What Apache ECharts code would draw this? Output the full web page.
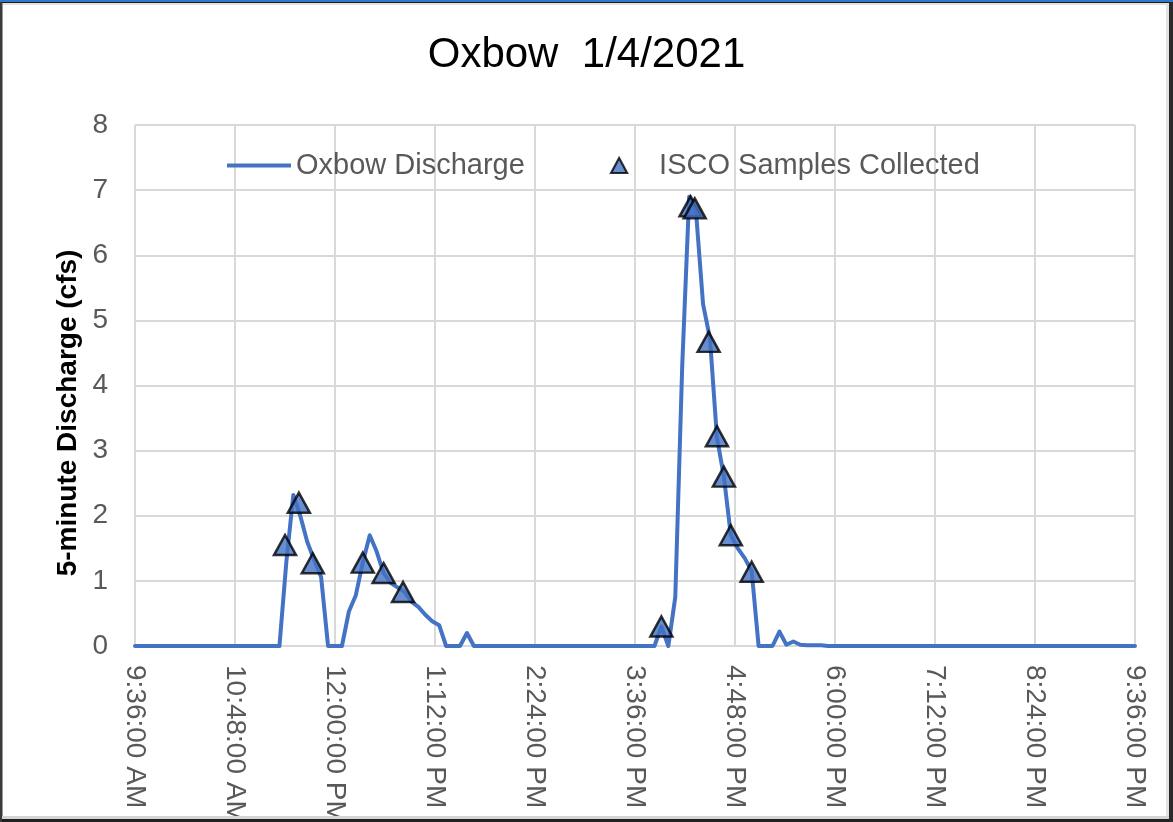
<!DOCTYPE html>
<html>
<head>
<meta charset="utf-8">
<script src="https://cdn.jsdelivr.net/npm/echarts@6/dist/echarts.min.js"></script>
<style>
html,body{margin:0;padding:0;background:#fff;}
#chart{width:1173px;height:822px;}
</style>
</head>
<body>
<div id="chart"></div>
<script>
// ---- Data ----
const dischargeTimes = ["9:36","11:20","11:25","11:30","11:35","11:40","11:45","11:50","11:55","12:05",
  "12:10","12:15","12:20","12:25","12:30","12:35","12:40","12:45","12:50","12:55",
  "13:00","13:05","13:10","13:15","13:20","13:30","13:35","13:40","15:50","15:55",
  "16:00","16:05","16:10","16:15","16:20","16:25","16:30","16:35","16:40","16:45",
  "16:50","16:55","17:00","17:05","17:15","17:20","17:25","17:30","17:35","17:40",
  "17:50","17:55","21:36"];
const dischargeValues = [0,0,1.3,2.32,2.0,1.6,1.32,1.06,0,0,
  0.53,0.78,1.28,1.7,1.45,1.12,0.97,0.9,0.83,0.68,
  0.6,0.48,0.38,0.32,0,0,0.2,0,0,0.3,
  0,0.75,4.3,6.9,6.65,5.25,4.72,3.2,2.6,1.7,
  1.5,1.35,1.15,0,0,0.22,0.02,0.07,0.02,0.01,
  0.01,0,0];
const sampleTimes = ["11:24","11:34","11:44","12:20","12:35","12:49","15:55","16:16","16:19","16:29","16:35","16:40","16:45","17:00"];
const sampleValues = [1.55,2.2,1.27,1.28,1.12,0.83,0.3,6.75,6.72,4.67,3.22,2.6,1.7,1.14];
const xTickLabels = ["9:36:00 AM","10:48:00 AM","12:00:00 PM","1:12:00 PM","2:24:00 PM","3:36:00 PM","4:48:00 PM","6:00:00 PM","7:12:00 PM","8:24:00 PM","9:36:00 PM"];
const yTickLabels = ["0","1","2","3","4","5","6","7","8"];

// ---- helpers ----
function toMin(s){ const p = s.split(":"); return (+p[0])*60 + (+p[1]); }
const X_MIN = 576, X_MAX = 1296, X_INT = 72;
const lineData = dischargeTimes.map((t,i)=>[toMin(t), dischargeValues[i]]);
const sampleData = sampleTimes.map((t,i)=>[toMin(t), sampleValues[i]]);

const FONT = "'Liberation Sans', Arial, sans-serif";
const BLUE = '#4472C4';
const GRID = '#d9d9d9';

const chart = echarts.init(document.getElementById('chart'), null, {renderer:'canvas'});
chart.setOption({
  animation: false,
  backgroundColor: '#ffffff',
  title: {
    text: 'Oxbow  1/4/2021',
    left: 'center',
    top: 29,
    textStyle: {fontFamily: FONT, fontSize: 42, fontWeight: 'normal', color: '#000'}
  },
  legend: [
    {
      data: [{name: 'Oxbow Discharge', icon: 'rect'}],
      left: 222, top: 146, padding: 5,
      itemWidth: 64, itemHeight: 4,
      itemStyle: {color: BLUE, borderWidth: 0},
      textStyle: {fontFamily: FONT, fontSize: 29, color: '#595959'}
    },
    {
      data: ['ISCO Samples Collected'],
      left: 605, top: 146, padding: 5,
      itemWidth: 16, itemHeight: 15,
      itemStyle: {borderWidth: 2.2},
      textStyle: {fontFamily: FONT, fontSize: 29, color: '#595959', padding: [0, 0, 0, 27]}
    }
  ],
  grid: {left: 135, right: 38, top: 125, bottom: 176, containLabel: false, outerBoundsMode: 'none'},
  xAxis: {
    type: 'value',
    min: X_MIN, max: X_MAX, interval: X_INT,
    axisLine: {show: true, lineStyle: {color: GRID, width: 2}},
    axisTick: {show: false},
    splitLine: {show: true, lineStyle: {color: GRID, width: 2}},
    axisLabel: {
      rotate: -90,
      margin: 19,
      fontFamily: FONT, fontSize: 28, color: '#595959',
      formatter: function(v){ return xTickLabels[Math.round((v - X_MIN)/X_INT)] || ''; }
    }
  },
  yAxis: {
    type: 'value',
    min: 0, max: 8, interval: 1,
    axisLine: {show: false},
    axisTick: {show: false},
    splitLine: {show: true, lineStyle: {color: GRID, width: 2}},
    axisLabel: {
      margin: 27,
      fontFamily: FONT, fontSize: 28, color: '#595959',
      formatter: function(v){ return yTickLabels[Math.round(v)]; }
    }
  },
  series: [
    {
      name: 'Oxbow Discharge',
      type: 'line',
      data: lineData,
      symbol: 'none',
      clip: true,
      lineStyle: {color: BLUE, width: 4, join: 'round', cap: 'round'},
      itemStyle: {color: BLUE},
      z: 2
    },
    {
      name: 'ISCO Samples Collected',
      type: 'scatter',
      data: sampleData,
      symbol: 'triangle',
      symbolSize: [22, 20],
      itemStyle: {color: BLUE, borderColor: '#000', borderWidth: 2.5},
      z: 3
    }
  ],
  graphic: [
    {type:'text', z: 50, x: 68, y: 413, rotation: Math.PI/2,
      style: {text: '5-minute Discharge (cfs)', fontFamily: FONT, fontSize: 28, fontWeight: 'bold',
        fill: '#000', align: 'center', verticalAlign: 'middle'}},
    // frame
    {type:'rect', z: 100, shape:{x:0,y:816,width:1173,height:3}, style:{fill:'#d4d4d4'}},
    {type:'rect', z: 100, shape:{x:0,y:819,width:1173,height:3}, style:{fill:'#202020'}},
    {type:'rect', z: 100, shape:{x:0,y:0,width:1173,height:2}, style:{fill:'#2f78cc'}},
    {type:'rect', z: 100, shape:{x:0,y:2,width:1173,height:1}, style:{fill:'#1c1c1c'}},
    {type:'rect', z: 100, shape:{x:3,y:3,width:1163,height:2}, style:{fill:'#e2e2e2'}},
    {type:'rect', z: 100, shape:{x:0,y:2,width:2,height:820}, style:{fill:'#3a3a3a'}},
    {type:'rect', z: 100, shape:{x:2,y:3,width:1,height:813}, style:{fill:'#9a9a9a'}},
    {type:'rect', z: 100, shape:{x:1166,y:3,width:3,height:813}, style:{fill:'#e2e2e2'}},
    {type:'rect', z: 100, shape:{x:1169,y:2,width:4,height:820}, style:{fill:'#2a2a2a'}}
  ]
});
</script>
</body>
</html>
